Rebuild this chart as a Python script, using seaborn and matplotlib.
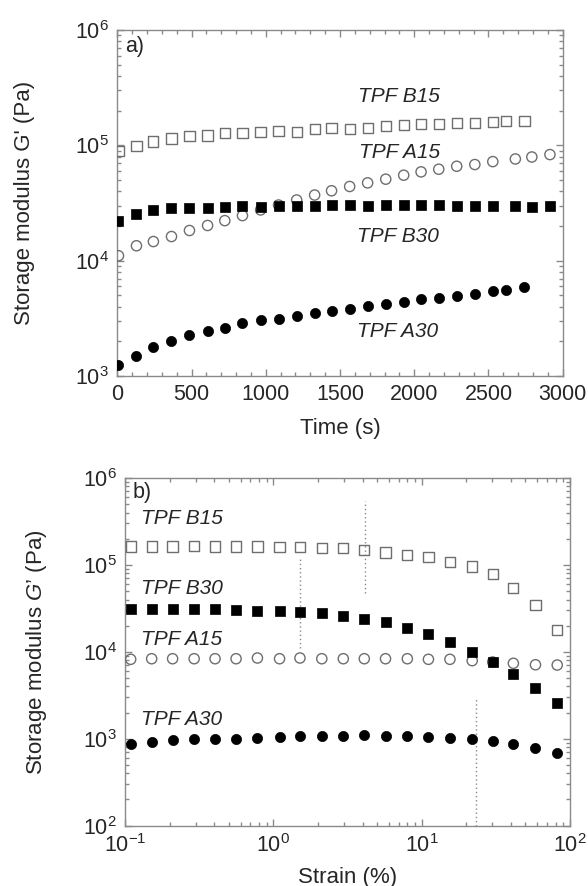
import matplotlib
matplotlib.use("Agg")
import matplotlib.pyplot as plt
import matplotlib.ticker as mticker
import seaborn as sns

# ---- panel a) : time sweep ----
time_b15 = [8, 129, 243, 365, 486, 608, 724, 843, 965, 1086, 1208, 1329, 1443, 1565,
            1686, 1808, 1929, 2046, 2165, 2286, 2408, 2529, 2620, 2742]
g_b15_time = [89000, 99000, 108000, 114500, 120000, 121600, 128200, 128200, 130000, 133400,
              130000, 138800, 142500, 139700, 142500, 146300, 149300, 152300, 152300, 157500,
              155300, 160600, 161800, 162800]

time_a15 = [8, 129, 243, 365, 486, 608, 724, 843, 965, 1086, 1208, 1329, 1443, 1565,
            1686, 1808, 1929, 2046, 2165, 2286, 2408, 2529, 2681, 2792, 2914]
g_a15_time = [11040, 13470, 14660, 16200, 18270, 20200, 22250, 24600, 27540, 30400, 33600,
              37100, 40400, 44000, 47300, 50900, 55100, 58900, 62100, 65900, 68200, 72300,
              76200, 79300, 83200]

time_b30 = time_a15
g_b30_time = [22100, 25600, 27500, 28500, 28500, 28800, 29400, 29800, 29200, 29800, 30000,
              30000, 30200, 30200, 29800, 30200, 30200, 30200, 30200, 29800, 29600, 29800,
              29800, 29400, 30000]

time_a30 = time_b15
g_a30_time = [1237, 1490, 1783, 2023, 2252, 2457, 2590, 2862, 3040, 3143, 3337, 3494, 3637,
              3838, 4019, 4240, 4413, 4624, 4778, 4938, 5176, 5460, 5607, 5878]

# ---- panel b) : strain sweep ----
strain = [0.109, 0.151, 0.209, 0.292, 0.404, 0.56, 0.78, 1.1, 1.51, 2.12, 2.96, 4.1, 5.7,
          8.0, 11.1, 15.5, 21.9, 30.1, 41.5, 58.5, 82.0]
g_b15_strain = [163000, 163000, 163000, 166000, 163000, 163000, 163000, 160000, 160000, 156000,
                155000, 147000, 139000, 131000, 123000, 107000, 96000, 79000, 54000, 34800, 17900]
g_b30_strain = [31100, 31100, 31100, 30800, 30800, 30300, 29700, 29200, 28400, 27700, 25800,
                24100, 21800, 18900, 16200, 13100, 10000, 7570, 5560, 3800, 2590]
g_a15_strain = [8200, 8330, 8330, 8330, 8330, 8330, 8490, 8330, 8490, 8330, 8330, 8330, 8330,
                8330, 8200, 8200, 7910, 7640, 7380, 7100, 7050]
g_a30_strain = [869, 924, 966, 993, 985, 993, 1027, 1055, 1074, 1074, 1074, 1094, 1074, 1074,
                1037, 1010, 985, 933, 861, 775, 680]

# dotted guides (critical strain) in panel b
guide_strain = [1.51, 4.15, 23.2]
guide_low = [11000, 47000, 100]
guide_high = [120000, 540000, 2940]

sns.set_style("ticks")
plt.rcParams["font.family"] = ["Liberation Sans", "DejaVu Sans"]
plt.rcParams["mathtext.fontset"] = "custom"
plt.rcParams["mathtext.rm"] = "Liberation Sans"
plt.rcParams["mathtext.it"] = "Liberation Sans:italic"

GRAY = "#6e6e6e"
FRAME = "#8a8a8a"
MS = 54

fig = plt.figure(figsize=(5.88, 8.86), dpi=100)
ax1 = fig.add_axes([0.1995, 0.5756, 0.7575, 0.3905])
ax2 = fig.add_axes([0.2128, 0.0681, 0.7566, 0.3924])


def open_pts(ax, x, y, marker):
    sns.scatterplot(x=x, y=y, ax=ax, marker=marker, s=MS, color=GRAY,
                    facecolors="none", edgecolor=GRAY, linewidth=1.0, zorder=3)


def full_pts(ax, x, y, marker):
    sns.scatterplot(x=x, y=y, ax=ax, marker=marker, s=MS, color="black",
                    edgecolor="black", linewidth=0.5, zorder=4)


# panel a
open_pts(ax1, time_b15, g_b15_time, "s")
open_pts(ax1, time_a15, g_a15_time, "o")
full_pts(ax1, time_b30, g_b30_time, "s")
full_pts(ax1, time_a30, g_a30_time, "o")

# panel b
for xs, lo, hi in zip(guide_strain, guide_low, guide_high):
    ax2.plot([xs, xs], [lo, hi], ls=(0, (1, 2)), color="#888888", lw=1.0, zorder=2)
open_pts(ax2, strain, g_b15_strain, "s")
open_pts(ax2, strain, g_a15_strain, "o")
full_pts(ax2, strain, g_b30_strain, "s")
full_pts(ax2, strain, g_a30_strain, "o")

# axes scales and ticks
ax1.set_yscale("log")
ax1.set_xlim(0, 3000)
ax1.set_ylim(1e3, 1e6)
ax1.xaxis.set_major_locator(mticker.MultipleLocator(500))
ax1.xaxis.set_minor_locator(mticker.MultipleLocator(100))

ax2.set_xscale("log")
ax2.set_yscale("log")
ax2.set_xlim(0.1, 100)
ax2.set_ylim(1e2, 1e6)

for ax in (ax1, ax2):
    ax.yaxis.set_minor_formatter(mticker.NullFormatter())
    ax.xaxis.set_minor_formatter(mticker.NullFormatter())
    ax.yaxis.set_minor_locator(mticker.LogLocator(base=10, subs=range(2, 10), numticks=20))
    ax.tick_params(which="both", direction="in", top=True, right=True,
                   color=FRAME, labelsize=15.5, pad=6, width=1.0)
    ax.tick_params(which="major", length=5)
    ax.tick_params(which="minor", length=3)
    for sp in ax.spines.values():
        sp.set_color(FRAME)
        sp.set_linewidth(1.0)
ax2.xaxis.set_minor_locator(mticker.LogLocator(base=10, subs=range(2, 10), numticks=20))

ax1.set_xlabel("Time (s)", fontsize=16, labelpad=9)
ax1.set_ylabel("Storage modulus G' (Pa)", fontsize=16)
ax1.yaxis.set_label_coords(-0.185, 0.5)
ax2.set_xlabel("Strain (%)", fontsize=16, labelpad=7)
ax2.set_ylabel("Storage modulus $\\mathit{G}$\u2019 (Pa)", fontsize=16)
ax2.yaxis.set_label_coords(-0.17, 0.5)

# panel letters and series labels
ax1.text(0.017, 0.952, "a)", transform=ax1.transAxes, fontsize=15.5, va="center", ha="left")
ax2.text(0.017, 0.957, "b)", transform=ax2.transAxes, fontsize=15.5, va="center", ha="left")

lab_kw = dict(fontsize=15, fontstyle="italic", ha="center", va="center")
ax1.text(1895, 2.64e5, "TPF B15", **lab_kw)
ax1.text(1900, 8.7e4, "TPF A15", **lab_kw)
ax1.text(1890, 1.63e4, "TPF B30", **lab_kw)
ax1.text(1890, 2.42e3, "TPF A30", **lab_kw)

side_kw = dict(fontsize=15, fontstyle="italic", ha="left", va="center")
ax2.text(0.127, 3.4e5, "TPF B15", **side_kw)
ax2.text(0.127, 5.4e4, "TPF B30", **side_kw)
ax2.text(0.127, 1.38e4, "TPF A15", **side_kw)
ax2.text(0.127, 1.65e3, "TPF A30", **side_kw)

fig.savefig("out.png", dpi=100, facecolor="white")
